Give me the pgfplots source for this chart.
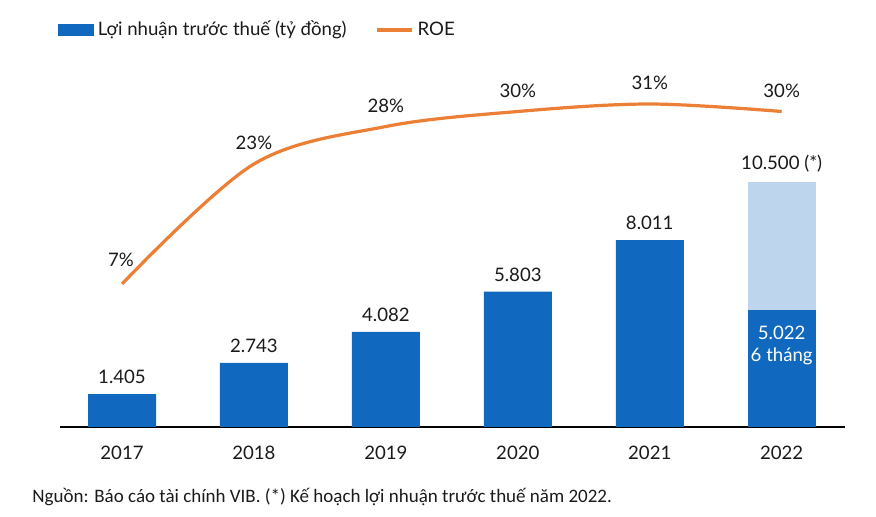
\documentclass[border=0pt]{standalone}
\usepackage{pgfplots}
\pgfplotsset{compat=1.18}
\usepackage{fontspec}
\setmainfont{Lato}
\newfontfamily\notefont{Carlito}
\definecolor{barblue}{HTML}{1068BF}
\definecolor{lightblue}{HTML}{BDD6EE}
\definecolor{roe}{HTML}{EB7F36}
\definecolor{txt}{HTML}{1A1A1A}
\begin{document}
\begin{tikzpicture}
\path[use as bounding box] (0,0) rectangle (438pt,258.5pt);
\begin{axis}[
  at={(30pt,45pt)}, anchor=south west,
  scale only axis, width=392.5pt, height=183.5pt,
  xmin=-0.47, xmax=5.48, ymin=0, ymax=15730,
  axis x line*=bottom, axis y line=none,
  x axis line style={-, line width=0.8pt, black},
  xtick={0,1,2,3,4,5},
  xticklabels={2017,2018,2019,2020,2021,2022},
  major tick length=0pt,
  xticklabel style={font=\fontsize{9.3}{11}\selectfont, text=txt, yshift=-6pt},
  ytick=\empty,
  ybar, bar width=34pt,
  point meta=explicit symbolic,
  nodes near coords,
  every node near coord/.append style={font=\fontsize{9.3}{11}\selectfont, text=txt, yshift=1.5pt},
]
\addplot[fill=barblue, draw=none, bar shift=0pt] coordinates {
  (0,1405) [1.405]
  (1,2743) [2.743]
  (2,4082) [4.082]
  (3,5803) [5.803]
  (4,8011) [8.011]
};
\addplot[fill=lightblue, draw=none, bar shift=0pt] coordinates {
  (5,10500) [10.500 (*)]
};
\addplot[fill=barblue, draw=none, bar shift=0pt,
  every node near coord/.append style={anchor=north, align=center, text=white, yshift=-6pt}] coordinates {
  (5,5022) [5.022\\6 tháng]
};
\end{axis}
\begin{axis}[
  at={(30pt,45pt)}, anchor=south west,
  scale only axis, width=392.5pt, height=183.5pt,
  xmin=-0.47, xmax=5.48, ymin=-12.07, ymax=36.87,
  hide axis,
  point meta=explicit symbolic,
  legend columns=2,
  legend style={draw=none, fill=none, anchor=west, at={(-0.003,1.082)},
    font=\fontsize{9.3}{11}\selectfont, text=txt, inner xsep=0pt,
    /tikz/every even column/.append style={column sep=12pt}},
]
\addlegendimage{legend image code/.code={\fill[barblue] (0pt,-2.8pt) rectangle (17.5pt,2.8pt);}}
\addlegendentry{Lợi nhuận trước thuế (tỷ đồng)}
\addplot[roe, line width=1.6pt, smooth, tension=0.55, mark=none,
  nodes near coords,
  every node near coord/.append style={anchor=south, font=\fontsize{9.3}{11}\selectfont, text=txt, yshift=3pt},
  coordinate style/.condition={x==0}{xshift=-0.5pt, yshift=1.5pt},
  legend image code/.code={\draw[roe, line width=2pt] (0pt,0pt) -- (17.5pt,0pt);}] coordinates {
  (0,7) [7\%]
  (1,23) [23\%]
  (2,28) [28\%]
  (3,30) [30\%]
  (4,31) [31\%]
  (5,30) [30\%]
};
\addlegendentry{ROE}
\end{axis}
\node[anchor=west, inner sep=0pt, text=txt] at (16pt,10pt) {\notefont\fontsize{9.5}{11}\selectfont Nguồn: Báo cáo tài chính VIB. (*) Kế hoạch lợi nhuận trước thuế năm 2022.};
\end{tikzpicture}
\end{document}
